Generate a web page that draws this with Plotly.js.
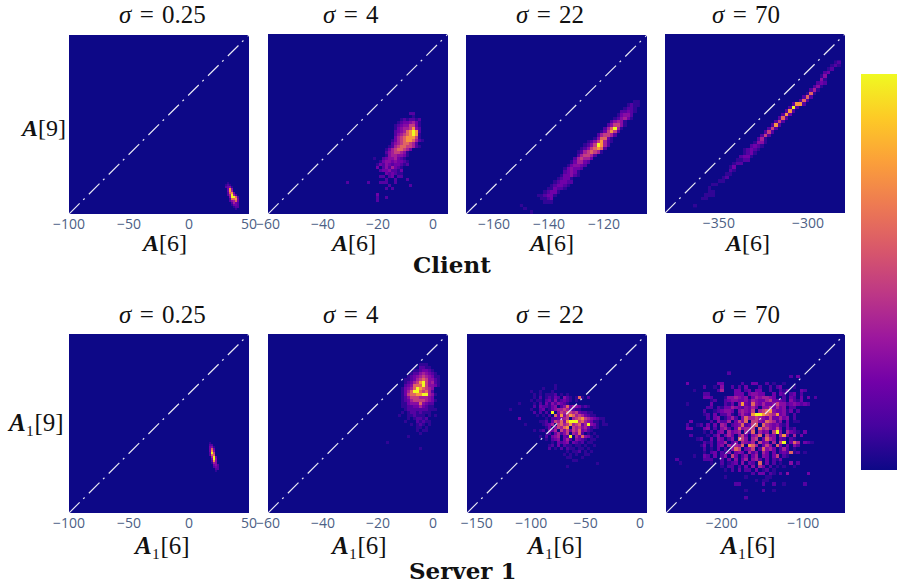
<!DOCTYPE html>
<html><head><meta charset="utf-8">
<script src="https://cdn.plot.ly/plotly-3.0.1.min.js"></script>
<style>html,body{margin:0;padding:0;background:#fff;overflow:hidden}</style>
</head><body><div id="chart" style="width:897px;height:588px"></div>
<script>
// Density levels 0-9. Each row: "firstColumn:levels", top row first.
const clientS025 = ["1:1","0:121","0:2341","1:384","1:385","1:2783","1:25952","2:49972","2:27783","2:24573","3:2532","3:1332","4:122","5:1"];
const clientS4 = [
"21:22","22:1","18:1212212","17:12334531","16:123446631","16:134556842","16:234578982","16:245678981","16:356788861","15:13567887521","15:245677652","14:12567766521","13:135677653","13:24566541","13:14554431","9:10023445321","11:1344343321","10:13243233212","10:302425321","11:23342213","13:323211","11:22023022","13:200200020","0:20000002000222002","14:20000002","13:202","","10:3","10:2002","10:2"];
const clientS22 = [
"34:11","32:1211","31:1221","30:22321","29:13442","28:124531","27:24541","26:246641","25:257951","24:136862","23:256652","22:147731","20:12468521","19:12469852","18:12467872","17:12567651","17:256652","16:256553","15:135532","14:134432","13:134332","13:23431","12:133421","11:12331","10:123322","9:123321","8:113221","7:12331","5:112331","6:1123","7:111","0:1","1:1","3:1","4:1"];
const clientS70 = [
"41:12","40:121","39:12","38:23","37:14","37:41","36:232","35:241","34:251","33:171","32:272","31:272","29:2882","28:292","27:282","26:283","25:272","24:262","23:282","22:262","21:262","20:262","19:251","18:1441","17:2321","15:12321","15:1231","14:2331","13:1122","12:122","11:13","11:21","10:11","9:12","8:11","6:11","5:1","5:11","4:111","3:11","","1:1"];
const server1S025 = ["1:1","1:22","1:341","1:373","1:384","1:296","1:277","2:593","2:394","2:284","2:154","3:342","3:232","4:22","4:1"];
const server1S4 = [
"12:111","12:2211","10:1123321","9:12245432100","8:123456543110","7:1123567644210","7:1235689645210","7:2347779644310","6:13457987654","6:1357997675200","6:13677889954100","6:12466655543","6:12356666543100","6:11344474322","6:11223353211","7:1222222211100","6:10122121110","5:100112111010100","8:101221200","7:1000212110","9:10121010","11:110100","11:101100","12:1","8:1","","1:1","","12:1"];
const server1S22 = [
"29:1","25:100010","21:10010001000","22:1010111201010","22:1020121320421017102","21:1011023141232101","17:1000010203142432100","22:2032213402473543121","14:100000010023013455653211","22:20202090465765632211","23:10102073846875653211","17:30000000010223456056786543211","24:1120365748999675431101","19:1000001235067568567359431011","26:130465780656453121","22:10120435064636573421","26:12035246054720101","24:10203450329053743101","26:10234035204321011","28:10323403212011","27:1203021101101001","27:20102021101101","33:101120101","32:1010100110","33:11000100","35:11","43:1","33:1"];
const server1S70 = [
"18:2","36:203","","6:300000000330000020033002010010000","11:200104002020300020020230001","8:1000000250003302303300200213000320","11:220000000333034433003032023020","11:332000144543403545543002032030302","13:120023443342543356333204213","6:1000000300021304832743533464423432320","12:22021335432435304463534022","11:2001234430454360567843341302","11:1203022410353289987658341020","12:20340135204755654363353402","7:30000020422503647066437652403011","6:200120303054023472367075434213","6:33000340204520374556075643630312","11:102034053450527053406940532103","7:2000010240353046304570634058305030","9:12003043024076405603754032021","11:21203350240543506340506903750321","10:13020340535470875036407303042","11:2010302047603460274530252010","11:102302140343052405303023271201","8:1003203024063024035043036021","3:2000000022200203040350452030213","4:10000000010020123040320703020100402","16:102202030405302010100100","17:102030220301201","25:203302102040000030","17:100000100000110","26:1011","20:220000002002001000002","","23:100002001","","23:2"];

// Value of each density level on the 0-1 colour scale.
const levelValues = [0,0.07,0.15,0.22,0.28,0.36,0.47,0.6,0.75,1];
// Data-unit bin grids: left edge, bin width, top edge, bin height.
const binGrids = [
  [30, 1.67, -73.2, 1.67], [-31.6, 1.09, -22.9, 1.09], [-150.6, 1.21, -128.3, 1.224], [-366.2, 1.962, -294.2, 1.973],
  [15, 1.67, -40.5, 1.67], [-18.2, 1.09, -5.1, 1.1], [-159, 2.757, -39.8, 2.772], [-269.7, 4.24, -94.5, 4.24]
];
const panelRows = [clientS025, clientS4, clientS22, clientS70, server1S025, server1S4, server1S22, server1S70];
const axisRanges = [[-100,50],[-60,5.5],[-170.2,-104.4],[-380.2,-279.3],[-100,50],[-60,5.5],[-159,6.4],[-268.5,-48.6]];
const tickValues = [[-100,-50,0,50],[-60,-40,-20,0],[-160,-140,-120],[-350,-300],[-100,-50,0,50],[-60,-40,-20,0],[-150,-100,-50,0],[-200,-100]];
const sigmaLabels = ["0.25","4","22","70"];
const plasma = ["#0d0887","#46039f","#7201a8","#9c179e","#bd3786","#d8576b","#ed7953","#fb9f3a","#fdca26","#f0f921"];

const W = 897, H = 588;
const boxes = [[69,249,35,214],[268,448,34,214],[466,647,35,214],[665,845,34,213],
               [69,249,334,513],[268,448,334,513],[467,647,334,513],[666,845,334,513]];
const titleX = [162,351,550,746];
const xTitleX = [[164,353,551,747],[161,358,554,747]];

function toGrid(rows){
  const parsed = rows.map(r => { if(!r) return [0,""]; const p = r.split(":"); return [parseInt(p[0]), p[1]]; });
  const n = Math.max.apply(null, parsed.map(p => p[0] + p[1].length));
  return parsed.map(p => { const a = new Array(n).fill(0); for(let i=0;i<p[1].length;i++) a[p[0]+i] = levelValues[parseInt(p[1][i])]; return a; });
}

const data = [];
const layout = {
  width:W, height:H, margin:{l:0,r:0,t:0,b:0,autoexpand:false}, paper_bgcolor:"#fff", plot_bgcolor:"#0d0887", showlegend:false,
  font:{family:"Open Sans, sans-serif"},
  coloraxis:{cmin:0,cmax:1,colorscale:plasma.map((c,i)=>[i/9,c]),
    colorbar:{thickness:36,thicknessmode:"pixels",len:396,lenmode:"pixels",x:861/W,xanchor:"left",xpad:0,ypad:0,
      y:1-470/H,yanchor:"bottom",showticklabels:false,ticks:"",outlinewidth:0,borderwidth:0}},
  annotations:[]
};
const serif = "Liberation Serif, serif";
const boldA = '<span style="font-weight:bold;font-style:italic">A</span>';
function note(text,x,y,size,family){
  layout.annotations.push({text,x:x/W,y:1-y/H,xref:"paper",yref:"paper",showarrow:false,xanchor:"center",yanchor:"middle",
    font:{family:family||serif,size,color:"#111"}});
}
panelRows.forEach((rows,i)=>{
  const k = i===0 ? "" : String(i+1), b = boxes[i], g = binGrids[i], r = axisRanges[i];
  const z = toGrid(rows).reverse();
  data.push({type:"heatmap",z,x0:g[0]+g[1]/2,dx:g[1],
    y0:g[2]-g[3]*(z.length-1)-g[3]/2,dy:g[3],coloraxis:"coloraxis",zsmooth:false,xaxis:"x"+k,yaxis:"y"+k,hoverinfo:"skip"});
  data.push({type:"scatter",mode:"lines",x:r,y:r,line:{color:"#e8e8f4",width:1.2,dash:"15px,5px,2px,6px"},xaxis:"x"+k,yaxis:"y"+k,hoverinfo:"skip"});
  layout["xaxis"+k] = {domain:[b[0]/W,b[1]/W],range:r,anchor:"y"+k,tickvals:tickValues[i],
    tickfont:{size:14,color:"#4d5f85",family:"Open Sans, sans-serif"},ticks:"",showgrid:false,zeroline:false,showline:false,fixedrange:true};
  layout["yaxis"+k] = {domain:[1-b[3]/H,1-b[2]/H],range:r,anchor:"x"+k,showticklabels:false,ticks:"",showgrid:false,zeroline:false,showline:false,fixedrange:true};
});
[14,314].forEach(y=> sigmaLabels.forEach((s,c)=> note("<i>σ</i>\u2004=\u2004"+s, titleX[c], y, 25)));
xTitleX[0].forEach(x=> note(boldA+"[6]", x, 243, 24));
xTitleX[1].forEach(x=> note(boldA+"\u2081[6]", x, 545, 25));
note(boldA+"[9]", 42.5, 128, 24);
note(boldA+"\u2081[9]", 35, 422, 25);
note("<b>Client</b>", 452, 264, 23, "DejaVu Serif, serif");
note("<b>Server 1</b>", 463, 570, 23, "DejaVu Serif, serif");
Plotly.newPlot("chart",data,layout,{displayModeBar:false,responsive:false});
</script></body></html>
